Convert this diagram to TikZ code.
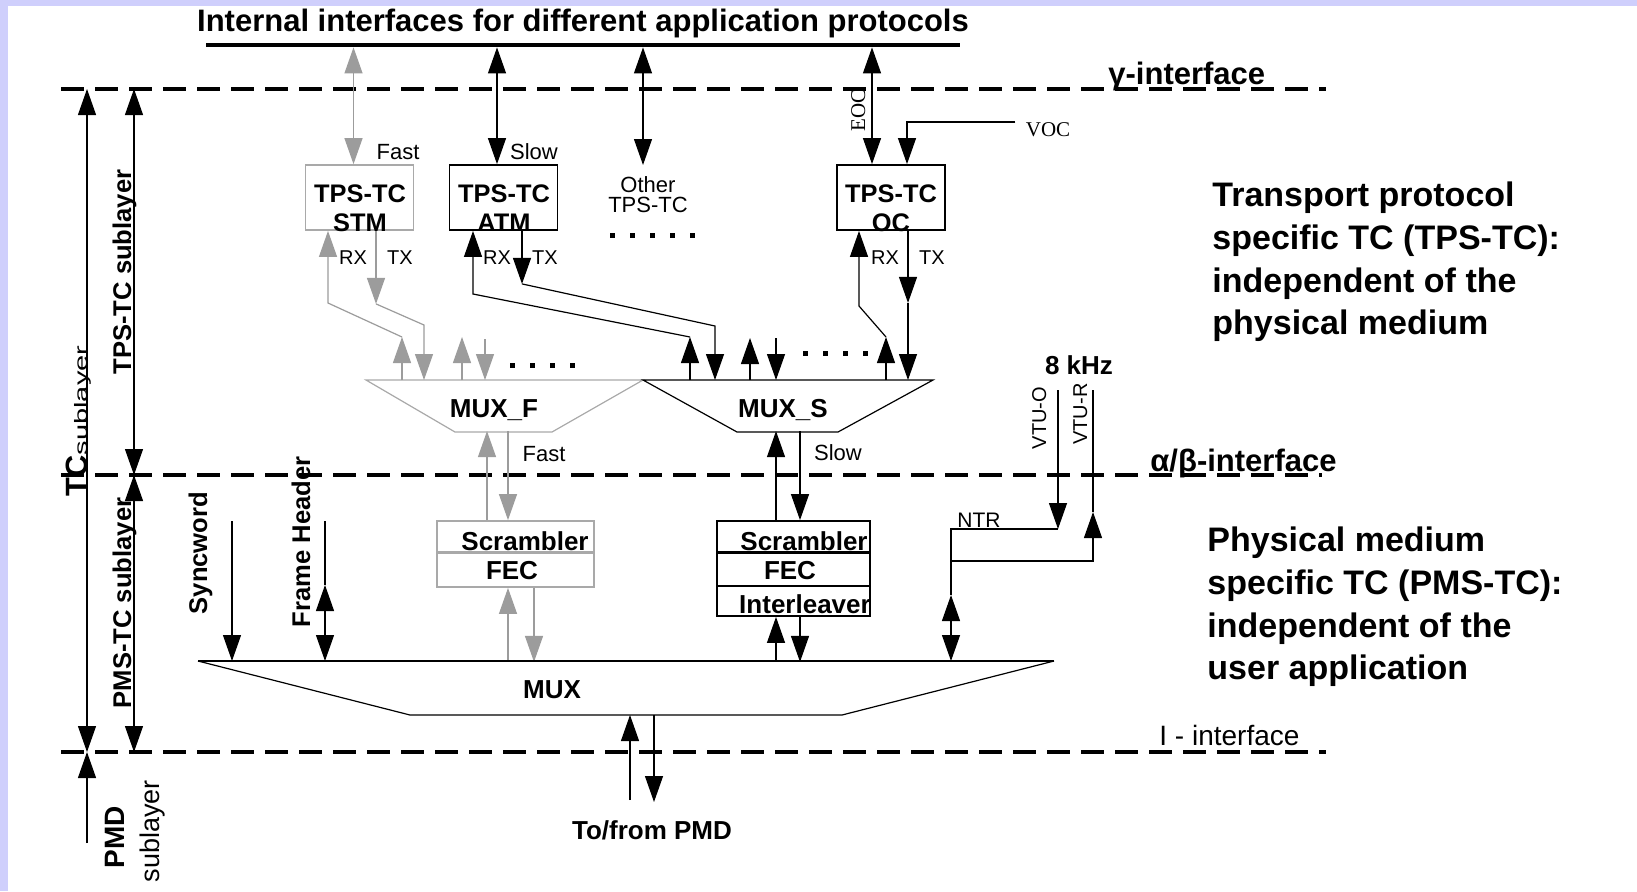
\documentclass[tikz,border=0pt]{standalone}
\usepackage{graphicx}
\usepackage{fontspec}
\setmainfont{Liberation Sans}
\newfontfamily\timesface{Liberation Serif}
\usetikzlibrary{arrows.meta,calc}
\definecolor{lavender}{HTML}{CFCFFC}
\definecolor{arrowgray}{HTML}{9C9C9C}
\definecolor{boxgray}{HTML}{A9A9A9}
\newcommand{\fsz}[2]{\fontsize{#1}{#2}\selectfont}

\begin{document}
\begin{tikzpicture}[x=0.5pt,y=-0.5pt,
    >={Triangle[length=13pt,width=9pt]},
    every node/.style={inner sep=0pt},
    conn/.style={line width=0.6pt},
    gconn/.style={conn,arrowgray},
    ifline/.style={line width=2pt,dash pattern=on 11.5pt off 5.5pt},
    tpsbox/.style={draw,line width=0.9pt,minimum width=54pt,minimum height=32.5pt},
    gtpsbox/.style={tpsbox,draw=boxgray},
    boxtxt/.style={font=\fsz{12.7}{14.5}\bfseries,align=center},
    blocktxt/.style={font=\fsz{13}{15}\bfseries},
    small/.style={font=\fsz{11}{10}},
    tiny/.style={font=\fsz{10}{10}},
    vlbl/.style={rotate=90,anchor=base,font=\fsz{12.8}{14}\bfseries},
    note/.style={font=\fsz{17}{21.35}\bfseries,align=left,anchor=west}]

  % page background
  \fill[lavender] (0,0) rectangle (1637,891);
  \fill[white] (8,6) rectangle (1637,891);
  \useasboundingbox (0,0) rectangle (1637,891);

  % title and protocol bar
  \node[font=\fsz{15.5}{18}\bfseries] (title) at (583,23) {Internal interfaces for different application protocols};
  \node[fill=black,minimum width=377pt,minimum height=2pt] (bar) at (583,45) {};

  % interface lines
  \coordinate (gL) at (61,89);   \coordinate (gR) at (1326,89);
  \coordinate (abL) at (61,475); \coordinate (abR) at (1322,475);
  \coordinate (iL) at (61,752);  \coordinate (iR) at (1326,752);
  \draw[ifline] (gL) -- (gR);
  \draw[ifline] (abL) -- (abR);
  \draw[ifline] (iL) -- (iR);
  \node[anchor=base west,font=\fsz{15.5}{18}\bfseries] (gamlbl) at (1108,84) {γ-interface};
  \node[anchor=base west,font=\fsz{15.5}{18}\bfseries] (ablbl) at (1150,471) {α/β-interface};
  \node[anchor=base west,font=\fsz{14}{16}] (ilbl) at (1159,745) {I - interface};

  % sublayer markers on the left
  \coordinate (tcx) at (87,0);
  \coordinate (tpsx) at (134,0);
  \coordinate (pmdfoot) at (87,843);
  \draw[conn,<->] (gL -| tcx) -- (iL -| tcx);
  \draw[conn,<->] (gL -| tpsx) -- (abL -| tpsx);
  \draw[conn,<->] (abL -| tpsx) -- (iL -| tpsx);
  \draw[conn,->] (pmdfoot) -- (iL -| tcx);
  \node[rotate=90,anchor=base] (tclbl) at (87,421)
    {{\fsz{15.4}{16}\bfseries TC}\scalebox{1}[0.62]{\fsz{14.5}{16}sublayer}};
  \node[vlbl] (tpslbl) at (131,272) {TPS-TC sublayer};
  \node[vlbl] (pmslbl) at (131,603) {PMS-TC sublayer};
  \node[vlbl,font=\fsz{14}{16}\bfseries] (pmdlbl) at (124,837) {PMD};
  \node[vlbl,font=\fsz{13.5}{16}] (pmdsub) at (159,831) {sublayer};

  % TPS-TC blocks
  \node[gtpsbox] (stm) at (359.5,197.5) {};
  \node[tpsbox] (atm) at (503.5,197.5) {};
  \node[tpsbox] (oc) at (891,197.5) {};
  \node[boxtxt] (stmtxt) at (360,208) {TPS-TC\\STM};
  \node[boxtxt] (atmtxt) at (504,208) {TPS-TC\\ATM};
  \node[boxtxt] (octxt) at (891,208) {TPS-TC\\OC};
  \node[small,align=center] (other) at (648,195) {Other\\TPS-TC};
  \foreach \x in {612,632,652,672,692}
    \fill (\x-2.5,232.5) rectangle (\x+2.5,237.5);

  % links to the protocol bar
  \coordinate (stmT) at ([xshift=-3pt]stm.north);
  \coordinate (atmT) at ([xshift=-3.25pt]atm.north);
  \coordinate (otherT) at (643,165);
  \coordinate (ocE) at ([xshift=-9.5pt]oc.north);
  \coordinate (ocV) at ([xshift=8pt]oc.north);
  \draw[gconn,<->] (bar.south -| stmT) -- (stmT);
  \draw[conn,<->] (bar.south -| atmT) -- (atmT);
  \draw[conn,<->] (bar.south -| otherT) -- (otherT);
  \draw[conn,<->] (bar.south -| ocE) -- (ocE);
  \node[font=\fsz{10.5}{12}\timesface] (voc) at (1048,130) {VOC};
  \draw[conn,->] ([shift={(-5pt,4pt)}]voc.west) -| (ocV);
  \node[rotate=90,anchor=base,font=\fsz{10.5}{12}\timesface] (eoc) at (865,110) {EOC};
  \node[small] (fast1) at (398,152) {Fast};
  \node[small] (slow1) at (534,152) {Slow};

  % RX / TX ports
  \coordinate (stmRX) at ([xshift=-15.75pt]stm.south);
  \coordinate (stmTX) at ([xshift=8.25pt]stm.south);
  \coordinate (atmRX) at ([xshift=-15.25pt]atm.south);
  \coordinate (atmTX) at ([xshift=9.25pt]atm.south);
  \coordinate (ocRX) at ([xshift=-16pt]oc.south);
  \coordinate (ocTX) at ([xshift=8.5pt]oc.south);
  \node[tiny] (stmrxl) at (353,258) {RX};
  \node[tiny] (stmtxl) at (400,258) {TX};
  \node[tiny] (atmrxl) at (497,258) {RX};
  \node[tiny] (atmtxl) at (545,258) {TX};
  \node[tiny] (ocrxl) at (885,258) {RX};
  \node[tiny] (octxl) at (932,258) {TX};

  % MUX_F and MUX_S
  \coordinate (fTL) at (366,380); \coordinate (fTR) at (643,380);
  \coordinate (fBR) at (552,432); \coordinate (fBL) at (455,432);
  \coordinate (sTL) at (643,380); \coordinate (sTR) at (933,380);
  \coordinate (sBR) at (838,432); \coordinate (sBL) at (737,432);
  \draw[conn,boxgray] (fTL) -- (fTR) -- (fBR) -- (fBL) -- cycle;
  \draw[conn] (sTL) -- (sTR) -- (sBR) -- (sBL) -- cycle;
  \node[blocktxt] (muxf) at (494,410) {MUX\_F};
  \node[blocktxt] (muxs) at (783,410) {MUX\_S};

  % fast paths (grey)
  \draw[gconn,->] (402,380) -- (402,337);
  \draw[gconn,->] (402,337) -- (328,303) -- (stmRX);
  \draw[gconn,->] (stmTX) -- ++(0,73);
  \draw[gconn,->] ($(stmTX)+(0,73)$) -- (424,325) -- (424,380);
  \draw[gconn,->] (462,380) -- (462,337);
  \draw[gconn,->] (485,339) -- (485,380);
  \foreach \x in {512,532,552,572}
    \fill (\x-2.5,362.5) rectangle (\x+2.5,367.5);

  % slow paths
  \draw[conn,->] (690,380) -- (690,337);
  \draw[conn,->] (690,337) -- (473,294) -- (atmRX);
  \draw[conn,->] (atmTX) -- ++(0,53);
  \draw[conn,->] ($(atmTX)+(0,53)$) -- (715,326) -- (715,380);
  \draw[conn,->] (750,380) -- (750,338);
  \draw[conn,->] (776,338) -- (776,380);
  \foreach \x in {805,825,845,865}
    \fill (\x-2.5,350.5) rectangle (\x+2.5,355.5);
  \draw[conn,->] (886,380) -- (886,337);
  \draw[conn,->] (886,337) -- (859,306) -- (ocRX);
  \draw[conn,->] (ocTX) -- ++(0,72);
  \draw[conn,->] ($(ocTX)+(0,72)$) -- (908,380);

  % scrambler / FEC blocks
  \node[draw=boxgray,line width=0.9pt,minimum width=78.5pt,minimum height=33pt] (fastbox) at (515.5,554) {};
  \draw[boxgray,line width=1.4pt] ([yshift=-16pt]fastbox.north west) -- ([yshift=-16pt]fastbox.north east);
  \node[blocktxt] (fscr) at (525,541) {Scrambler};
  \node[blocktxt] (ffec) at (512,571) {FEC};
  \node[draw,line width=0.9pt,minimum width=76.5pt,minimum height=47.5pt] (slowbox) at (793.5,568.5) {};
  \draw[line width=1.4pt] ([yshift=-16pt]slowbox.north west) -- ([yshift=-16pt]slowbox.north east);
  \draw[line width=0.9pt] ([yshift=-33pt]slowbox.north west) -- ([yshift=-33pt]slowbox.north east);
  \node[blocktxt] (sscr) at (804,541) {Scrambler};
  \node[blocktxt] (sfec) at (790,571) {FEC};
  \node[blocktxt] (sint) at (805,604) {Interleaver};
  \node[small] (fast2) at (544,454) {Fast};
  \node[small] (slow2) at (838,453) {Slow};

  \draw[gconn,->] ([xshift=-14.25pt]fastbox.north) -- ++(0,-89);
  \draw[gconn,<-] ([xshift=-3.75pt]fastbox.north) -- ++(0,-89);
  \draw[gconn,<-] ([xshift=-3.75pt]fastbox.south) -- ++(0,74);
  \draw[gconn,->] ([xshift=9.25pt]fastbox.south) -- ++(0,74);
  \draw[conn,->] ([xshift=-8.75pt]slowbox.north) -- ++(0,-89);
  \draw[conn,<-] ([xshift=3.25pt]slowbox.north) -- ++(0,-89);
  \draw[conn,<-] ([xshift=-8.75pt]slowbox.south) -- ++(0,45);
  \draw[conn,->] ([xshift=3.25pt]slowbox.south) -- ++(0,45);

  % main MUX
  \coordinate (mTL) at (198,661); \coordinate (mTR) at (1054,661);
  \coordinate (mBR) at (842,715); \coordinate (mBL) at (410,715);
  \draw[line width=0.9pt] (mTL) -- (mTR);
  \draw[conn] (mTR) -- (mBR) -- (mBL) -- (mTL);
  \node[blocktxt] (mux) at (552,690) {MUX};

  % syncword and frame header
  \node[vlbl] (sync) at (207,553) {Syncword};
  \node[vlbl] (fhdr) at (310,542) {Frame Header};
  \coordinate (syncin) at (232,521);
  \coordinate (fhin) at (325,521);
  \draw[conn,->] (syncin) -- (syncin |- mTL);
  \draw[conn] (fhin) -- ++(0,64);
  \draw[conn,<->] ($(fhin)+(0,64)$) -- (fhin |- mTL);

  % network timing reference
  \node[font=\fsz{13}{15}\bfseries] (khz) at (1079,365) {8 kHz};
  \node[rotate=90,anchor=base,font=\fsz{10}{12}] (vtuo) at (1046,418) {VTU-O};
  \node[rotate=90,anchor=base,font=\fsz{10}{12}] (vtur) at (1087,414) {VTU-R};
  \node[font=\fsz{10.5}{12}] (ntr) at (979,520) {NTR};
  \coordinate (vtuotop) at (1058,390);
  \coordinate (vturtop) at (1093,390);
  \coordinate (ntrknee) at (951,529);
  \draw[conn,->] (vtuotop) -- (vtuotop |- ntrknee);
  \draw[conn] (vtuotop |- ntrknee) -- (ntrknee) -- ++(0,66);
  \draw[conn,<->] ($(ntrknee)+(0,66)$) -- (ntrknee |- mTL);
  \draw[conn] (vturtop) -- ++(0,122);
  \draw[conn,<-] ($(vturtop)+(0,122)$) -- ++(0,49) -| (ntrknee);

  % to / from PMD
  \coordinate (pmdup) at (630,800);
  \coordinate (pmddn) at (654,802);
  \draw[conn,->] (pmdup) -- (pmdup |- mBL);
  \draw[conn,<-] (pmddn) -- (pmddn |- mBL);
  \node[font=\fsz{13}{15}\bfseries] (pmd) at (652,830) {To/from PMD};

  % explanations on the right
  \node[note] (tpsnote) at (1212,262) {Transport protocol\\specific TC (TPS-TC):\\independent of the\\physical medium};
  \node[note] (pmsnote) at (1207,607) {Physical medium\\specific TC (PMS-TC):\\independent of the\\user application};
\end{tikzpicture}
\end{document}
